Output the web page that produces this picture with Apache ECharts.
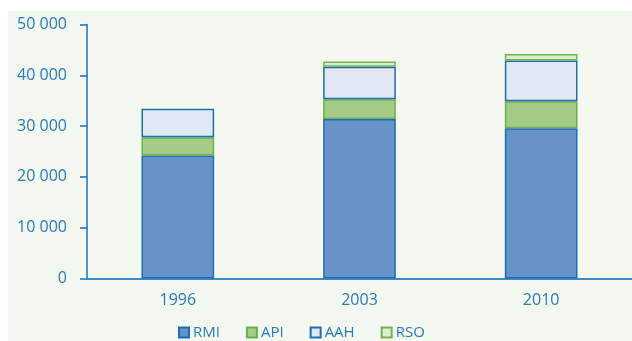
<!DOCTYPE html>
<html>
<head>
<meta charset="utf-8">
<script src="https://cdn.jsdelivr.net/npm/echarts@6/dist/echarts.min.js"></script>
<style>
  html, body { margin: 0; padding: 0; background: #ffffff; }
  #chart { width: 632px; height: 341px; }
</style>
</head>
<body>
<div id="chart"></div>
<script>
// Stacked totals per year (null = no segment)
const years = ['1996', '2003', '2010'];
const rmi = [24200, 31400, 29600];
const api = [3600, 3900, 5300];
const aah = [5600, 6400, 8000];
const rso = [null, 1000, 1300];
const seriesNames = ['RMI', 'API', 'AAH', 'RSO'];

const textColor = '#2b7bbb';
const axisBlue = '#1f6fb4';
const font = 'Open Sans';

const styles = [
  { color: '#6793c9', borderColor: '#1c6db4' },
  { color: '#a6ca87', borderColor: '#6cb14c' },
  { color: '#e1e7f5', borderColor: '#1c6db4' },
  { color: '#ddedd0', borderColor: '#74b552' }
];
const values = [rmi, api, aah, rso];

const chart = echarts.init(document.getElementById('chart'), null, { renderer: 'canvas' });

function fmt(v) {
  return String(v).replace(/\B(?=(\d{3})+(?!\d))/g, ' ');
}

chart.setOption({
  animation: false,
  backgroundColor: '#ffffff',
  graphic: [{
    type: 'rect',
    z: -10,
    silent: true,
    shape: { x: 8, y: 11, width: 640, height: 340 },
    style: { fill: '#f3f8f1' }
  }],
  grid: { left: 87, right: 0, top: 24.5, bottom: 62.5 },
  legend: {
    data: seriesNames,
    top: 320,
    left: 173,
    itemWidth: 10,
    itemHeight: 10,
    itemGap: 26,
    icon: 'rect',
    textStyle: { color: textColor, fontFamily: font, fontSize: 15, padding: [0, 0, 0, -1] }
  },
  xAxis: {
    type: 'category',
    data: years,
    axisLine: { lineStyle: { color: '#3f8bc6', width: 2 } },
    axisTick: { alignWithLabel: false, length: 8, lineStyle: { color: axisBlue, width: 1.5 } },
    axisLabel: { color: textColor, fontFamily: font, fontSize: 16, margin: 14 }
  },
  yAxis: {
    type: 'value',
    min: 0,
    max: 50000,
    interval: 10000,
    splitLine: { show: false },
    axisLine: { show: true, lineStyle: { color: axisBlue, width: 1.5 } },
    axisTick: { show: true, length: 7, lineStyle: { color: axisBlue, width: 1.5 } },
    axisLabel: { color: textColor, fontFamily: font, fontSize: 16, margin: 20, formatter: fmt }
  },
  series: seriesNames.map((name, i) => ({
    name: name,
    type: 'bar',
    stack: 'total',
    barWidth: '40%',
    data: values[i],
    itemStyle: { color: styles[i].color, borderColor: styles[i].borderColor, borderWidth: 1.5 }
  }))
});
</script>
</body>
</html>
